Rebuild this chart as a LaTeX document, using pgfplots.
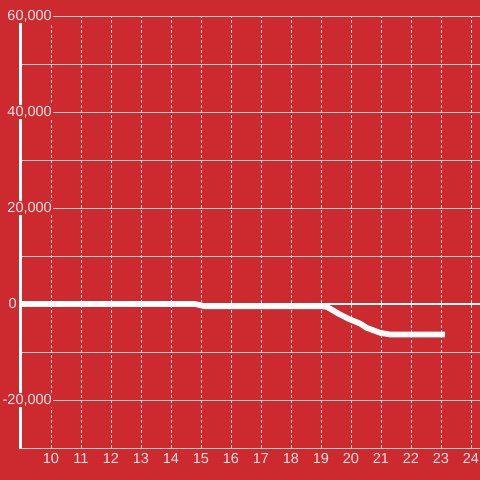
\documentclass[border=0pt]{standalone}
\usepackage{pgfplots}
\pgfplotsset{compat=1.18}
\usepackage{fontspec}
\setmainfont{Liberation Sans}
\definecolor{bg}{HTML}{CC2A2F}
\definecolor{gridc}{HTML}{D4CFCF}
\definecolor{txt}{HTML}{F4E6E6}
\begin{document}
\begin{tikzpicture}[x=1pt,y=1pt]
\fill[bg] (-21,-32) rectangle (459,448);
\useasboundingbox (-21,-32) rectangle (459,448);
\begin{axis}[
  at={(0,0)}, anchor=south west,
  scale only axis, width=459pt, height=432pt,
  xmin=9, xmax=24.3, ymin=-30000, ymax=60000,
  xtick={10,...,24},
  ytick={-30000,-20000,...,60000},
  yticklabels={},
  scaled y ticks=false,
  /pgf/number format/assume math mode=true,
  major tick length=0pt,
  axis line style={draw=none},
  grid=major,
  x grid style={gridc, dash pattern=on 3pt off 2pt, line width=0.8pt},
  y grid style={gridc, line width=1pt},
  xticklabel style={font=\fontsize{14.5}{17}\selectfont, text=txt, anchor=north, yshift=-2pt},
  clip=false,
]
\addplot[white, line width=2.5pt] coordinates {(9,0) (24.3,0)};
\addplot[white, line width=5.7pt, line join=round] coordinates {
  (9,0) (14.8,0) (15.1,-450) (19.0,-450) (19.2,-600) (19.63,-2190)
  (19.97,-3230) (20.3,-4060) (20.52,-4960) (20.97,-6000) (21.3,-6350) (23.13,-6350)
};
\draw[white, line width=3pt] (axis cs:9,-30200) -- (axis cs:9,60000);
\begin{scope}[every node/.style={font=\fontsize{14.5}{17}\selectfont, text=txt, fill=bg, inner sep=1pt, anchor=east}]
\node[xshift=32pt] at (axis cs:9,60000) {60,000};
\node[xshift=32pt] at (axis cs:9,40000) {40,000};
\node[xshift=32pt] at (axis cs:9,20000) {20,000};
\node[xshift=-3pt] at (axis cs:9,0) {0};
\node[xshift=32pt] at (axis cs:9,-20000) {-20,000};
\end{scope}
\end{axis}
\end{tikzpicture}
\end{document}
